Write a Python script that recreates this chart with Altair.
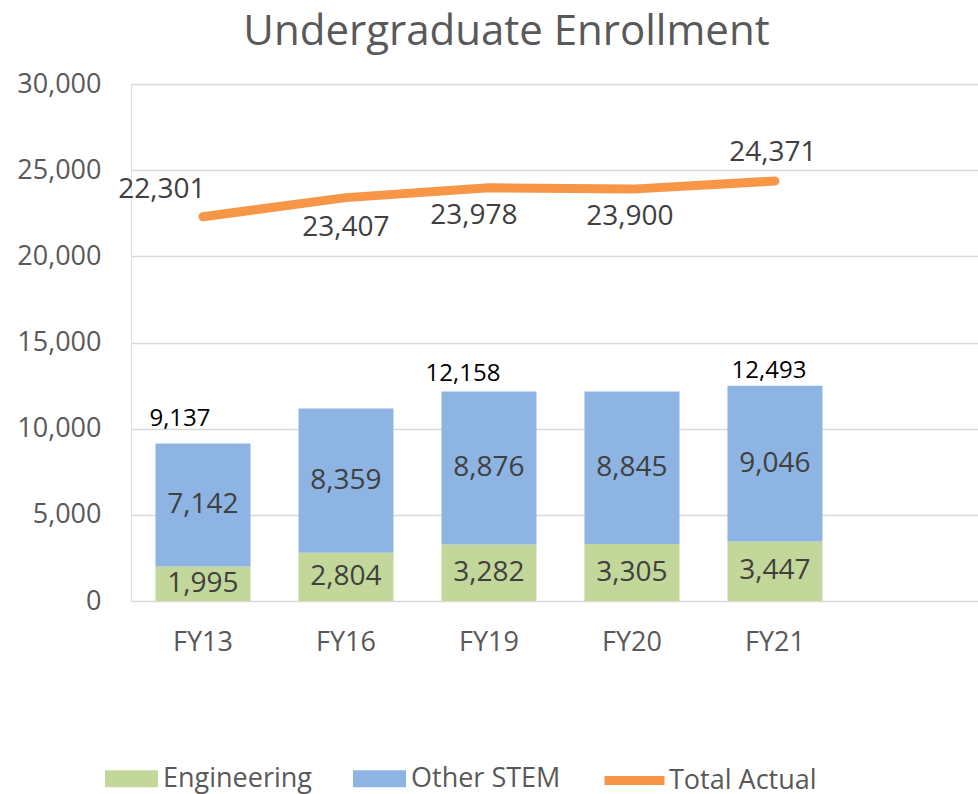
import altair as alt
import pandas as pd

# ---- data ----
categories = ["FY13", "FY16", "FY19", "FY20", "FY21"]
engineering = [1995, 2804, 3282, 3305, 3447]
other_stem = [7142, 8359, 8876, 8845, 9046]
total_actual = [22301, 23407, 23978, 23900, 24371]
stem_total_labelled = [True, False, True, False, True]
y_ticks = [0, 5000, 10000, 15000, 20000, 25000, 30000]

series_names = ["Engineering", "Other STEM"]
line_name = "Total Actual"

GREEN = "#C4D79B"
BLUE = "#8DB4E2"
ORANGE = "#F79646"
AXIS_GREY = "#595959"
LABEL_GREY = "#404040"
FONT = "Open Sans"

bar_rows = []
for i, fy in enumerate(categories):
    bar_rows.append({"fy": fy, "series": series_names[0], "value": engineering[i], "order": 0})
    bar_rows.append({"fy": fy, "series": series_names[1], "value": other_stem[i], "order": 1})
bars_df = pd.DataFrame(bar_rows)

totals_df = pd.DataFrame({
    "fy": categories,
    "total": [e + o for e, o in zip(engineering, other_stem)],
    "shown": stem_total_labelled,
})
line_df = pd.DataFrame({"fy": categories, "total": total_actual, "series": line_name})

x_enc = alt.X(
    "fy:N",
    sort=categories,
    scale=alt.Scale(domain=categories, paddingInner=0.3357, paddingOuter=0.6295, align=0.136),
    axis=alt.Axis(title=None, labelAngle=0, domain=False, ticks=False, labelPadding=28,
                  labelFontSize=27, labelFont=FONT, labelColor=AXIS_GREY, grid=False),
)
y_scale = alt.Scale(domain=[0, 30000], nice=False)
y_axis = alt.Axis(title=None, values=y_ticks, labelExpr="format(datum.value, ',')",
                  domain=False, ticks=False, labelPadding=30, labelFontSize=27, labelFont=FONT,
                  labelColor=AXIS_GREY, gridColor="#D9D9D9", gridWidth=1.6)

bars = alt.Chart(bars_df).mark_bar(size=95).encode(
    x=x_enc,
    y=alt.Y("value:Q", stack="zero", scale=y_scale, axis=y_axis),
    color=alt.Color("series:N", scale=alt.Scale(domain=series_names, range=[GREEN, BLUE]),
                    legend=alt.Legend(orient="none", legendX=-26, legendY=668, direction="horizontal",
                                      title=None, symbolType="M-1,-0.32H1V0.32H-1Z", symbolSize=2809,
                                      symbolStrokeWidth=0, labelFontSize=27, labelFont=FONT,
                                      labelColor=AXIS_GREY, labelOffset=5, columnPadding=41, padding=0)),
    order=alt.Order("order:Q"),
)

bar_labels = alt.Chart(bars_df).transform_stack(
    stack="value", as_=["y0", "y1"], groupby=["fy"], sort=[alt.SortField("order")]
).transform_calculate(mid="(datum.y0 + datum.y1) / 2").mark_text(
    fontSize=28, font=FONT, color=LABEL_GREY, baseline="middle"
).encode(
    x=alt.X("fy:N", sort=categories),
    y=alt.Y("mid:Q"),
    text=alt.Text("value:Q", format=","),
)

total_offsets = {"FY13": (-23, -25), "FY19": (-26, -17), "FY21": (-6, -15)}
total_layers = []
for fy, (dx, dy) in total_offsets.items():
    total_layers.append(
        alt.Chart(totals_df).transform_filter(alt.datum.shown).transform_filter(alt.datum.fy == fy)
        .mark_text(fontSize=24, font=FONT, color="#000000", baseline="middle", dx=dx, dy=dy)
        .encode(x=alt.X("fy:N", sort=categories), y=alt.Y("total:Q"),
                text=alt.Text("total:Q", format=","))
    )

line = alt.Chart(line_df).mark_line(strokeWidth=9, strokeCap="round", strokeJoin="round").encode(
    x=alt.X("fy:N", sort=categories),
    y=alt.Y("total:Q"),
    stroke=alt.Stroke("series:N", scale=alt.Scale(domain=[line_name], range=[ORANGE]),
                      legend=alt.Legend(orient="none", legendX=469, legendY=662, title=None,
                                        symbolType="stroke", symbolSize=3600, symbolStrokeWidth=9,
                                        labelFontSize=27, labelFont=FONT, labelColor=AXIS_GREY,
                                        labelOffset=0, padding=0)),
)

line_offsets = {"FY13": (-41, -27), "FY16": (0, 30), "FY19": (-15, 28), "FY20": (-2, 28), "FY21": (-2, -28)}
line_label_layers = []
for fy, (dx, dy) in line_offsets.items():
    line_label_layers.append(
        alt.Chart(line_df).transform_filter(alt.datum.fy == fy)
        .mark_text(fontSize=28, font=FONT, color=LABEL_GREY, baseline="middle", dx=dx, dy=dy)
        .encode(x=alt.X("fy:N", sort=categories), y=alt.Y("total:Q"),
                text=alt.Text("total:Q", format=","))
    )

chart = alt.layer(bars, bar_labels, *total_layers, line, *line_label_layers).resolve_legend(
    color="independent", stroke="independent"
).properties(
    width=847,
    height=517,
    autosize=alt.AutoSizeParams(type="none"),
    padding={"left": 131, "top": 84, "right": 0, "bottom": 193},
    title=alt.TitleParams("Undergraduate Enrollment", fontSize=42, font=FONT, fontWeight="normal",
                          color=AXIS_GREY, anchor="middle", dx=-48, offset=16),
).configure_view(stroke=None).configure(background="white")

chart.save("out.html", embed_options={"renderer": "svg", "actions": False})
